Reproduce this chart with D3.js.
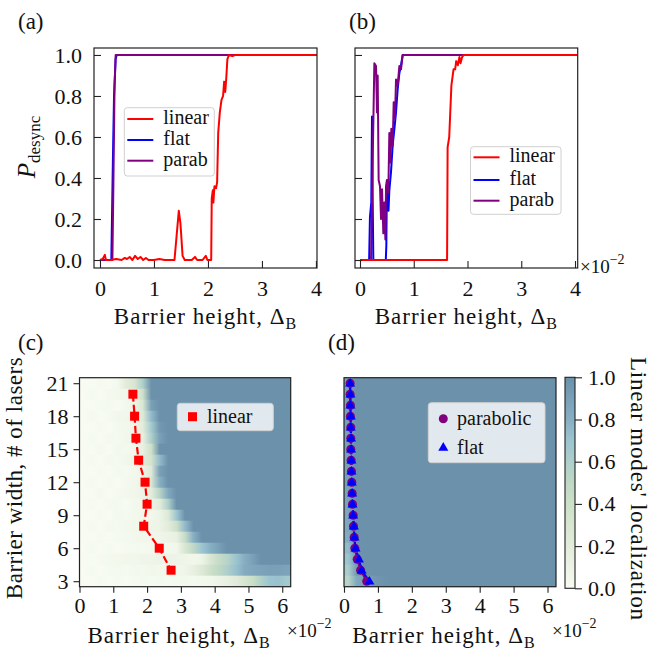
<!DOCTYPE html>
<html>
<head>
<meta charset="utf-8">
<script src="https://cdn.jsdelivr.net/npm/d3@7"></script>
<style>
  body { margin: 0; background: #fff; }
  svg text { font-family: "Liberation Serif", "DejaVu Serif", serif; fill: #111; }
</style>
</head>
<body>
<div id="chart"></div>
<script>
// ---- tick labels ----
var xTicksTop = [0, 1, 2, 3, 4];
var yTicksTop = [0, 0.2, 0.4, 0.6, 0.8, 1.0];
var xTicksBottom = [0, 1, 2, 3, 4, 5, 6];
var widthTicks = [3, 6, 9, 12, 15, 18, 21];
var cbarTicks = [0, 0.2, 0.4, 0.6, 0.8, 1.0];

// ---- panel (a): P_desync vs barrier height ----
var linearA = [[0,0],[0.05,0.005],[0.09,0.025],[0.11,0],[0.2,0],[0.3,0.005],[0.4,0],[0.46,0.01],[0.5,0.005],[0.55,0.015],
  [0.6,0],[0.65,0.02],[0.7,0.005],[0.75,0.015],[0.8,0],[0.85,0.01],[0.9,0],[1.0,0],[1.1,0.005],[1.2,0],[1.38,0],
  [1.42,0.12],[1.46,0.24],[1.49,0.18],[1.53,0.02],[1.57,0],[1.7,0],[1.76,0.015],[1.8,0],[1.9,0],[1.96,0.02],[1.99,0],
  [2.06,0],[2.07,0.3],[2.09,0.34],[2.1,0.28],[2.12,0.36],[2.15,0.35],[2.17,0.38],[2.19,0.62],[2.22,0.72],[2.25,0.78],
  [2.28,0.8],[2.3,0.87],[2.32,0.82],[2.34,0.89],[2.36,0.98],[2.39,1.0],[2.45,0.995],[2.5,1.0],[4.02,1.0]];
var flatA = [[0,0],[0.21,0],[0.24,0.5],[0.26,0.8],[0.29,0.98],[0.31,1.0],[4.02,1.0]];
var parabA = [[0,0],[0.23,0],[0.245,0.3],[0.27,0.85],[0.29,1.0],[4.02,1.0]];

// ---- panel (b) ----
var linearB = [[0,0],[1.62,0],[1.63,0.55],[1.66,0.6],[1.7,0.85],[1.74,0.93],[1.77,0.93],[1.79,0.97],[1.82,0.95],
  [1.85,0.99],[1.87,0.96],[1.9,0.99],[1.93,1.0],[4.05,1.0]];
var flatB = [[0,0],[0.17,0],[0.185,0.21],[0.21,0.28],[0.223,0.7],[0.236,0.3],[0.248,0],[0.48,0],[0.49,0.07],[0.5,0.36],
  [0.515,0.3],[0.53,0.24],[0.546,0.34],[0.577,0.43],[0.608,0.56],[0.64,0.64],[0.67,0.72],[0.7,0.83],[0.732,0.91],
  [0.763,0.95],[0.794,1.0],[4.05,1.0]];
var parabB = [[0,0],[0.205,0],[0.223,0.28],[0.267,0.96],[0.298,0.946],[0.316,0.72],[0.329,0.9],[0.347,0.39],[0.372,0.36],
  [0.391,0.2],[0.41,0.345],[0.434,0.13],[0.453,0.28],[0.472,0.1],[0.484,0.36],[0.5,0.39],[0.527,0.33],[0.546,0.62],
  [0.565,0.475],[0.583,0.64],[0.608,0.556],[0.627,0.77],[0.651,0.69],[0.67,0.88],[0.7,0.85],[0.732,0.946],[0.763,0.93],
  [0.794,1.0],[4.05,1.0]];

// ---- panels (c), (d): localization maps ----
var widths = [21, 20, 19, 18, 17, 16, 15, 14, 13, 12, 11, 10, 9, 8, 7, 6, 5, 4, 3];
var heatCols = [0.125,0.375,0.625,0.875,1.125,1.375,1.625,1.875,2.125,2.375,2.625,2.875,3.125,3.375,3.625,3.875,
  4.125,4.375,4.625,4.875,5.125,5.375,5.625,5.875,6.125];
var heatC = [
  [0,0,0.02,0,0.03,0.2,0.3,0.6,1,1,1,1,1,1,1,1,1,1,1,1,1,1,1,1,1],
  [0,0.02,0,0.03,0.04,0.05,0.15,0.4,1,1,1,1,1,1,1,1,1,1,1,1,1,1,1,1,1],
  [0,0,0.02,0.03,0,0.04,0.1,0.3,0.9,1,1,1,1,1,1,1,1,1,1,1,1,1,1,1,1],
  [0,0.03,0,0.02,0.05,0.06,0.1,0.25,0.75,1,1,1,1,1,1,1,1,1,1,1,1,1,1,1,1],
  [0,0,0.02,0,0.03,0.04,0.08,0.2,0.65,0.95,1,1,1,1,1,1,1,1,1,1,1,1,1,1,1],
  [0,0.02,0,0.03,0.02,0.05,0.08,0.15,0.6,0.9,1,1,1,1,1,1,1,1,1,1,1,1,1,1,1],
  [0,0,0.03,0,0.04,0.03,0.06,0.15,0.4,1,1,1,1,1,1,1,1,1,1,1,1,1,1,1,1],
  [0,0.02,0,0.03,0.02,0.05,0.1,0.2,0.35,0.75,1,1,1,1,1,1,1,1,1,1,1,1,1,1,1],
  [0,0,0.02,0,0.03,0.02,0.04,0.1,0.25,0.9,1,1,1,1,1,1,1,1,1,1,1,1,1,1,1],
  [0,0.02,0,0.02,0,0.03,0.05,0.1,0.3,0.8,1,1,1,1,1,1,1,1,1,1,1,1,1,1,1],
  [0,0,0.03,0,0.02,0.04,0.06,0.1,0.2,0.55,0.85,1,1,1,1,1,1,1,1,1,1,1,1,1,1],
  [0,0.02,0,0.02,0.03,0,0.04,0.05,0.1,0.2,0.6,1,1,1,1,1,1,1,1,1,1,1,1,1,1],
  [0,0,0.02,0,0.03,0.02,0.04,0.05,0.06,0.1,0.25,0.7,1,1,1,1,1,1,1,1,1,1,1,1,1],
  [0,0.02,0,0.03,0.02,0.04,0.05,0.06,0.08,0.1,0.2,0.4,0.75,1,1,1,1,1,1,1,1,1,1,1,1],
  [0,0,0.02,0,0.02,0.03,0.04,0.05,0.06,0.08,0.1,0.15,0.45,0.8,1,1,1,1,1,1,1,1,1,1,1],
  [0,0.02,0,0.02,0,0.02,0.03,0.02,0.04,0.03,0.04,0.05,0.3,0.5,0.7,0.8,0.9,1,1,1,1,1,1,1,1],
  [0,0,0.02,0.03,0.04,0.05,0.06,0.08,0.08,0.1,0.1,0.1,0.08,0.05,0.1,0.3,0.45,0.55,0.7,0.8,0.9,1,1,1,1],
  [0,0.02,0,0.02,0.03,0.02,0.04,0.03,0.05,0.04,0.05,0.05,0.08,0.15,0.25,0.4,0.5,0.6,0.72,0.82,0.86,0.88,0.9,0.9,0.88],
  [0,0,0.02,0,0.02,0,0.02,0.03,0.02,0.03,0.02,0.03,0.04,0.03,0.04,0.05,0.1,0.15,0.22,0.32,0.42,0.58,0.7,0.72,0.66]
];
var heatD = [
  [0.9,1,1,1,1,1,1,1,1,1,1,1,1,1,1,1,1,1,1,1,1,1,1,1,1],
  [0.9,1,1,1,1,1,1,1,1,1,1,1,1,1,1,1,1,1,1,1,1,1,1,1,1],
  [0.9,1,1,1,1,1,1,1,1,1,1,1,1,1,1,1,1,1,1,1,1,1,1,1,1],
  [0.9,1,1,1,1,1,1,1,1,1,1,1,1,1,1,1,1,1,1,1,1,1,1,1,1],
  [0.9,1,1,1,1,1,1,1,1,1,1,1,1,1,1,1,1,1,1,1,1,1,1,1,1],
  [0.9,1,1,1,1,1,1,1,1,1,1,1,1,1,1,1,1,1,1,1,1,1,1,1,1],
  [0.9,1,1,1,1,1,1,1,1,1,1,1,1,1,1,1,1,1,1,1,1,1,1,1,1],
  [0.9,1,1,1,1,1,1,1,1,1,1,1,1,1,1,1,1,1,1,1,1,1,1,1,1],
  [0.9,1,1,1,1,1,1,1,1,1,1,1,1,1,1,1,1,1,1,1,1,1,1,1,1],
  [0.9,1,1,1,1,1,1,1,1,1,1,1,1,1,1,1,1,1,1,1,1,1,1,1,1],
  [0.88,1,1,1,1,1,1,1,1,1,1,1,1,1,1,1,1,1,1,1,1,1,1,1,1],
  [0.88,1,1,1,1,1,1,1,1,1,1,1,1,1,1,1,1,1,1,1,1,1,1,1,1],
  [0.86,1,1,1,1,1,1,1,1,1,1,1,1,1,1,1,1,1,1,1,1,1,1,1,1],
  [0.85,1,1,1,1,1,1,1,1,1,1,1,1,1,1,1,1,1,1,1,1,1,1,1,1],
  [0.82,0.99,1,1,1,1,1,1,1,1,1,1,1,1,1,1,1,1,1,1,1,1,1,1,1],
  [0.75,0.98,1,1,1,1,1,1,1,1,1,1,1,1,1,1,1,1,1,1,1,1,1,1,1],
  [0.7,0.97,1,1,1,1,1,1,1,1,1,1,1,1,1,1,1,1,1,1,1,1,1,1,1],
  [0.62,0.95,0.99,1,1,1,1,1,1,1,1,1,1,1,1,1,1,1,1,1,1,1,1,1,1],
  [0.55,0.85,0.9,0.95,0.98,1,1,1,1,1,1,1,1,1,1,1,1,1,1,1,1,1,1,1,1]
];

// points on maps
var linearW = [20, 18, 16, 14, 12, 10, 8, 6, 4];
var linearDelta = [1.58, 1.63, 1.67, 1.75, 1.94, 2.0, 1.9, 2.36, 2.71];
var parabDelta = [0.18,0.18,0.19,0.19,0.2,0.2,0.2,0.21,0.22,0.23,0.24,0.25,0.27,0.28,0.3,0.32,0.39,0.49,0.67];
var flatDelta = [0.18,0.19,0.19,0.2,0.2,0.21,0.21,0.22,0.22,0.23,0.24,0.25,0.27,0.29,0.31,0.34,0.44,0.52,0.75];

var RED = "#ff0000", BLUE = "#0000ff", PURPLE = "#800080";
var FS = 22;      // tick labels
var FL = 23;      // axis labels
var FLEG = 20;    // legend text

var svg = d3.select("#chart").append("svg")
  .attr("width", 662)
  .attr("height", 656);
var defs = svg.append("defs");

var cmap = d3.scaleLinear()
  .domain([0, 0.2, 0.4, 0.5, 0.6, 0.7, 0.8, 1])
  .range(["#f7fbf2", "#e3ecdb", "#cde0c9", "#bfd8c6", "#aecfca", "#9cc5d0", "#87afc3", "#6b91ab"]);

function styleAxis(g) {
  g.attr("font-family", null).attr("font-size", null);
  g.select(".domain").remove();
  g.selectAll("line").attr("stroke", "#222").attr("stroke-width", 1.1);
  g.selectAll("text").attr("font-size", FS).attr("fill", "#111");
}

function subLabel(g, x, y, main, sub, opts) {
  opts = opts || {};
  var t = g.append("text").attr("x", x).attr("y", y).attr("font-size", opts.size || FL)
    .attr("letter-spacing", opts.ls == null ? 1 : opts.ls)
    .attr("text-anchor", opts.anchor || "middle");
  if (opts.rotate) t.attr("transform", "rotate(" + opts.rotate + "," + x + "," + y + ")");
  t.append("tspan").text(main).attr("font-style", opts.italic ? "italic" : null);
  t.append("tspan").text(sub).attr("font-size", opts.subSize || 16).attr("dy", 5);
  return t;
}

function offsetText(x, y) {
  var t = svg.append("text").attr("x", x).attr("y", y).attr("font-size", 19);
  t.append("tspan").text("×10");
  t.append("tspan").text("−2").attr("font-size", 14).attr("dy", -9);
}

// ---------- top panels ----------
var yTop = d3.scaleLinear().domain([-0.039, 1.034]).range([268, 48]);

function linePanel(cfg) {
  var x = d3.scaleLinear().domain(cfg.xd).range([cfg.l, cfg.r]);
  var g = svg.append("g");
  var line = d3.line().x(function(d) { return x(d[0]); }).y(function(d) { return yTop(d[1]); });

  [[cfg.flat, BLUE], [cfg.parab, PURPLE], [cfg.linear, RED]].forEach(function(s) {
    g.append("path").datum(s[0])
      .attr("d", line)
      .attr("fill", "none")
      .attr("stroke", s[1])
      .attr("stroke-width", 2)
      .attr("stroke-linejoin", "round");
  });

  g.append("g").attr("transform", "translate(0,268)")
    .call(d3.axisBottom(x).tickValues(xTicksTop).tickSize(-7).tickPadding(12).tickFormat(d3.format("d")))
    .call(styleAxis);
  var ya = d3.axisLeft(yTop).tickValues(yTicksTop).tickSize(-7).tickPadding(12).tickFormat(d3.format(".1f"));
  if (!cfg.yLabels) ya.tickFormat("");
  g.append("g").attr("transform", "translate(" + cfg.l + ",0)").call(ya).call(styleAxis);

  g.append("rect").attr("x", cfg.l).attr("y", 48).attr("width", cfg.r - cfg.l).attr("height", 220)
    .attr("fill", "none").attr("stroke", "#222").attr("stroke-width", 1.2);

  subLabel(g, (cfg.l + cfg.r) / 2, 324, "Barrier height, Δ", "B");

  // legend
  var L = cfg.leg;
  g.append("rect").attr("x", L.x).attr("y", L.y).attr("width", L.w).attr("height", L.h)
    .attr("rx", 3).attr("fill", "#fff").attr("fill-opacity", 0.8).attr("stroke", "#d0d0d0");
  [["linear", RED], ["flat", BLUE], ["parab", PURPLE]].forEach(function(e, i) {
    var yy = L.rows[i];
    g.append("line").attr("x1", L.x + 3).attr("x2", L.x + 29).attr("y1", yy).attr("y2", yy)
      .attr("stroke", e[1]).attr("stroke-width", 2);
    g.append("text").attr("x", L.x + 39).attr("y", yy + 5).attr("font-size", FLEG).text(e[0]);
  });
  return x;
}

linePanel({ l: 94, r: 317, xd: [-0.111, 4.02], linear: linearA, flat: flatA, parab: parabA, yLabels: true,
  leg: { x: 124.3, y: 107.7, w: 90, h: 68.3, rows: [119, 140, 160.7] } });
linePanel({ l: 355, r: 577.7, xd: [-0.093, 4.05], linear: linearB, flat: flatB, parab: parabB, yLabels: false,
  leg: { x: 470.5, y: 146.7, w: 90.5, h: 67.6, rows: [157.3, 180, 200.7] } });

subLabel(svg, 35, 147, "P", "desync", { rotate: -90, italic: true, size: 25, subSize: 17, ls: 0 });
offsetText(580, 273);

// ---------- bottom panels ----------
var yW = d3.scaleLinear().domain([2.5, 21.5]).range([586.7, 377.7]);

function mapPanel(cfg) {
  var x = d3.scaleLinear().domain([0, 6.25]).range([cfg.l, cfg.r]);
  var g = svg.append("g");

  cfg.heat.forEach(function(row, i) {
    var id = cfg.id + "-row" + i;
    var grad = defs.append("linearGradient").attr("id", id);
    row.forEach(function(v, j) {
      grad.append("stop").attr("offset", heatCols[j] / 6.25).attr("stop-color", cmap(v));
    });
    g.append("rect")
      .attr("x", x(0))
      .attr("y", yW(widths[i] + 0.5))
      .attr("width", x(6.25) - x(0))
      .attr("height", yW(widths[i] - 0.5) - yW(widths[i] + 0.5) + 0.4)
      .attr("fill", "url(#" + id + ")");
  });

  g.append("g").attr("transform", "translate(0,586.7)")
    .call(d3.axisBottom(x).tickValues(xTicksBottom).tickSize(6).tickPadding(5).tickFormat(d3.format("d")))
    .call(styleAxis);
  if (cfg.yAxis) {
    g.append("g").attr("transform", "translate(" + cfg.l + ",0)")
      .call(d3.axisLeft(yW).tickValues(widthTicks).tickSize(6).tickPadding(5).tickFormat(d3.format("d")))
      .call(styleAxis);
  }
  g.append("rect").attr("x", cfg.l).attr("y", 377.7).attr("width", cfg.r - cfg.l).attr("height", 209)
    .attr("fill", "none").attr("stroke", "#222").attr("stroke-width", 1.2);

  subLabel(g, (cfg.l + cfg.r) / 2 - 6, 643, "Barrier height, Δ", "B");
  return { g: g, x: x };
}

// (c)
var pc = mapPanel({ id: "c", l: 79.5, r: 290.7, heat: heatC, yAxis: true });
var linPts = linearW.map(function(w, i) { return [linearDelta[i], w]; });
pc.g.append("path").datum(linPts)
  .attr("d", d3.line().x(function(d) { return pc.x(d[0]); }).y(function(d) { return yW(d[1]); }))
  .attr("fill", "none").attr("stroke", RED).attr("stroke-width", 2.2).attr("stroke-dasharray", "7.4,3.2");
pc.g.selectAll("rect.sq").data(linPts).enter().append("rect")
  .attr("x", function(d) { return pc.x(d[0]) - 4.5; })
  .attr("y", function(d) { return yW(d[1]) - 4.5; })
  .attr("width", 9).attr("height", 9).attr("fill", RED);
// legend (c)
pc.g.append("rect").attr("x", 177.3).attr("y", 403.3).attr("width", 96).attr("height", 27.4)
  .attr("rx", 3).attr("fill", "#fff").attr("fill-opacity", 0.8).attr("stroke", "#d0d0d0");
pc.g.append("rect").attr("x", 188).attr("y", 412.2).attr("width", 9).attr("height", 9).attr("fill", RED);
pc.g.append("text").attr("x", 207).attr("y", 423).attr("font-size", FLEG).text("linear");

svg.append("text").attr("font-size", FL).attr("letter-spacing", 0.5).attr("text-anchor", "middle")
  .attr("transform", "translate(22,478) rotate(-90)").text("Barrier width, # of lasers");
offsetText(287, 637);

// (d)
var pd = mapPanel({ id: "d", l: 344, r: 556, heat: heatD, yAxis: false });
var lineD = d3.line().x(function(d) { return pd.x(d[0]); }).y(function(d) { return yW(d[1]); });
var parabPts = widths.map(function(w, i) { return [parabDelta[i], w]; });
var flatPts = widths.map(function(w, i) { return [flatDelta[i], w]; });
pd.g.append("path").datum(parabPts).attr("d", lineD).attr("fill", "none")
  .attr("stroke", PURPLE).attr("stroke-width", 2).attr("stroke-dasharray", "7.4,3.2");
pd.g.append("path").datum(flatPts).attr("d", lineD).attr("fill", "none")
  .attr("stroke", BLUE).attr("stroke-width", 2).attr("stroke-dasharray", "7.4,3.2");
pd.g.selectAll("circle.pb").data(parabPts).enter().append("circle")
  .attr("cx", function(d) { return pd.x(d[0]); })
  .attr("cy", function(d) { return yW(d[1]); })
  .attr("r", 4.5).attr("fill", PURPLE);
var tri = d3.symbol().type(d3.symbolTriangle).size(44);
pd.g.selectAll("path.tr").data(flatPts).enter().append("path")
  .attr("d", tri)
  .attr("transform", function(d) { return "translate(" + pd.x(d[0]) + "," + (yW(d[1]) + 0.5) + ")"; })
  .attr("fill", BLUE);
// legend (d)
pd.g.append("rect").attr("x", 428.3).attr("y", 402.7).attr("width", 116.7).attr("height", 60)
  .attr("rx", 3).attr("fill", "#fff").attr("fill-opacity", 0.8).attr("stroke", "#d0d0d0");
pd.g.append("circle").attr("cx", 443.3).attr("cy", 418.7).attr("r", 4.5).attr("fill", PURPLE);
pd.g.append("path").attr("d", tri).attr("transform", "translate(443.3,447.8)").attr("fill", BLUE);
pd.g.append("text").attr("x", 457).attr("y", 425).attr("font-size", FLEG).text("parabolic");
pd.g.append("text").attr("x", 457).attr("y", 454).attr("font-size", FLEG).text("flat");
offsetText(552, 637);

// colorbar
var yC = d3.scaleLinear().domain([0, 1]).range([588.3, 377.3]);
var cg = defs.append("linearGradient").attr("id", "cbar")
  .attr("x1", 0).attr("y1", 1).attr("x2", 0).attr("y2", 0);
cmap.domain().forEach(function(v) {
  cg.append("stop").attr("offset", v).attr("stop-color", cmap(v));
});
svg.append("rect").attr("x", 565).attr("y", 377.3).attr("width", 10).attr("height", 211)
  .attr("fill", "url(#cbar)").attr("stroke", "#222").attr("stroke-width", 1.1);
svg.append("g").attr("transform", "translate(575,0)")
  .call(d3.axisRight(yC).tickValues(cbarTicks).tickSize(7).tickPadding(6).tickFormat(d3.format(".1f")))
  .call(styleAxis);
svg.append("text").attr("font-size", FL).attr("letter-spacing", 0.8)
  .attr("transform", "translate(631,357) rotate(90)").text("Linear modes' localization");

// panel letters
[["(a)", 18, 29], ["(b)", 349, 29], ["(c)", 18, 350], ["(d)", 328, 350]].forEach(function(p) {
  svg.append("text").attr("x", p[1]).attr("y", p[2]).attr("font-size", 23).text(p[0]);
});
</script>
</body>
</html>
